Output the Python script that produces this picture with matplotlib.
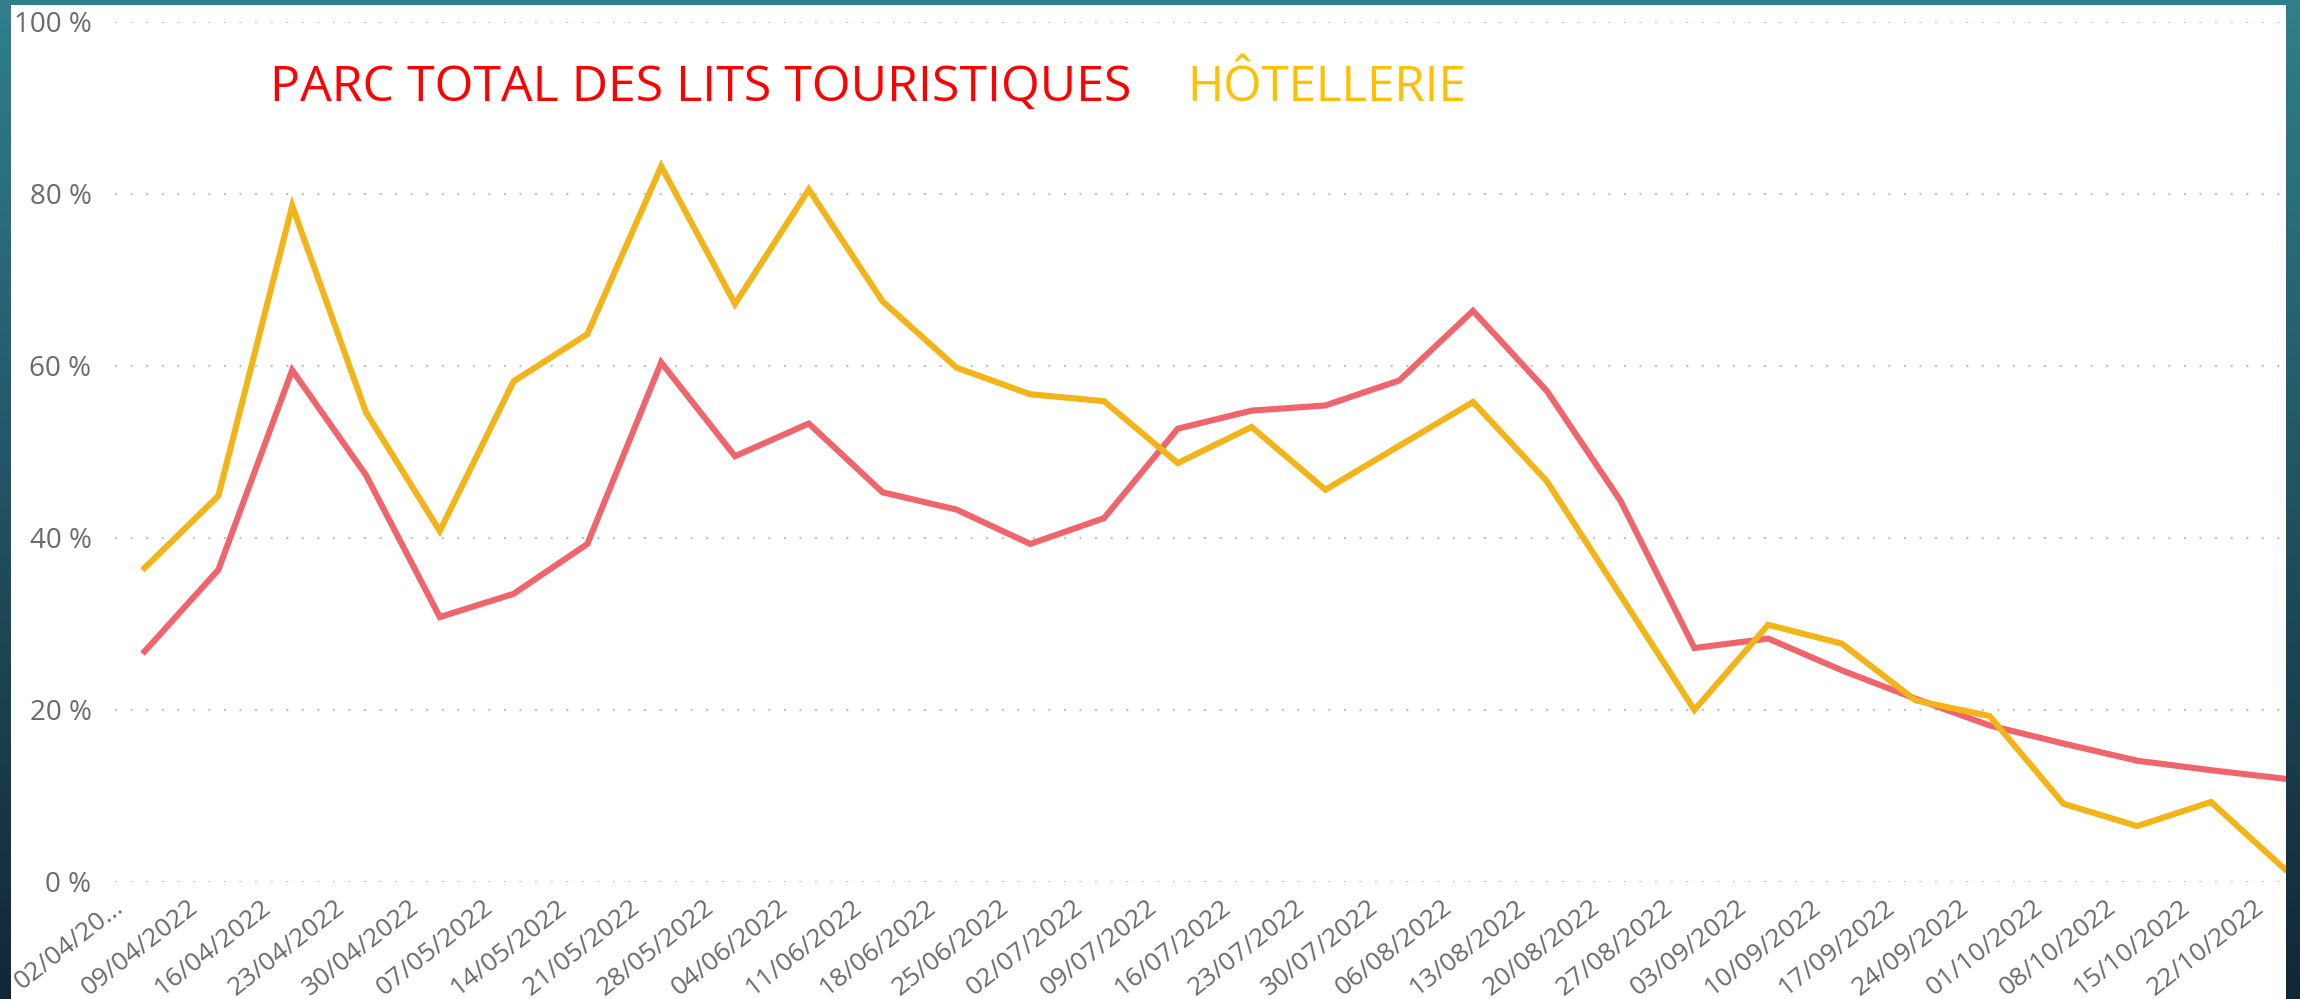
import numpy as np
import matplotlib
matplotlib.use("Agg")
import matplotlib.pyplot as plt
from matplotlib.patches import Rectangle
from matplotlib.transforms import ScaledTranslation

# ---------------- data ----------------
dates = ["02/04/20...", "09/04/2022", "16/04/2022", "23/04/2022", "30/04/2022",
         "07/05/2022", "14/05/2022", "21/05/2022", "28/05/2022", "04/06/2022",
         "11/06/2022", "18/06/2022", "25/06/2022", "02/07/2022", "09/07/2022",
         "16/07/2022", "23/07/2022", "30/07/2022", "06/08/2022", "13/08/2022",
         "20/08/2022", "27/08/2022", "03/09/2022", "10/09/2022", "17/09/2022",
         "24/09/2022", "01/10/2022", "08/10/2022", "15/10/2022", "22/10/2022"]

parc_total = [26.8, 36.3, 59.5, 47.3, 30.8, 33.5, 39.3, 60.4, 49.5, 53.3,
              45.3, 43.3, 39.3, 42.3, 52.7, 54.8, 55.4, 58.3, 66.4, 57.1,
              44.3, 27.2, 28.3, 24.6, 21.3, 18.2, 16.1, 14.1, 13.0, 12.0]

hotellerie = [36.5, 44.9, 78.6, 54.6, 40.8, 58.2, 63.7, 83.2, 67.2, 80.5,
              67.5, 59.8, 56.7, 55.9, 48.7, 52.9, 45.6, 50.7, 55.8, 46.6,
              33.3, 20.0, 29.9, 27.7, 21.1, 19.3, 9.1, 6.5, 9.3, 1.5]

y_ticks = [0, 20, 40, 60, 80, 100]
title_parc = "PARC TOTAL DES LITS TOURISTIQUES"
title_hot = "HÔTELLERIE"

# ---------------- style ----------------
W, H = 2300, 999
plt.rcParams['font.family'] = ['Open Sans', 'DejaVu Sans']
fig = plt.figure(figsize=(W / 100, H / 100), dpi=100)

# background (slide gradient + white panel)
bg = fig.add_axes([0, 0, 1, 1])
bg.set_xlim(0, W)
bg.set_ylim(H, 0)
bg.axis('off')
t = np.linspace(0, 1, 200)[:, None, None]
top = np.array([0.19, 0.50, 0.55])
bot = np.array([0.07, 0.15, 0.21])
grad = top * (1 - t) + bot * t
grad = np.repeat(grad, 2, axis=1)
bg.imshow(grad, extent=[0, W, H, 0], aspect='auto', zorder=0)
bg.add_patch(Rectangle((11, 5), 2286 - 11, H - 5, facecolor='white',
                       edgecolor='none', zorder=1))

# main axes
x0, x1 = 115, 2286
y_top, y_zero = 21.8, 882
ax = fig.add_axes([x0 / W, (H - y_zero) / H, (x1 - x0) / W, (y_zero - y_top) / H])
ax.patch.set_alpha(0)

x = np.arange(len(dates))
ax.plot(x, parc_total, color='#F0646B', lw=4.4, solid_joinstyle='miter', zorder=3)
ax.plot(x, hotellerie, color='#F2B418', lw=4.4, solid_joinstyle='miter', zorder=4)

spacing = 73.8
first = 144.6
ax.set_xlim(-(first - x0) / spacing, (x1 - first) / spacing)
ax.set_ylim(0, 100)

ax.set_yticks(y_ticks)
ax.set_yticklabels([f"{v} %" for v in y_ticks])
for v in y_ticks:
    ax.axhline(v, color='#c4c4c4', lw=1.6, linestyle=(0, (1, 6.0)), zorder=1)

ax.set_xticks(x)
ax.set_xticklabels(dates)
ax.tick_params(axis='y', length=0, pad=17, labelsize=20, labelcolor='#6a6a6a')
ax.tick_params(axis='x', length=0, pad=9, labelsize=19, labelcolor='#6a6a6a')
for s in ax.spines.values():
    s.set_visible(False)

# rotated date labels, shifted left of their tick
off = ScaledTranslation(-16 / 100, 0, fig.dpi_scale_trans)
for lab in ax.get_xticklabels():
    lab.set_rotation(38)
    lab.set_horizontalalignment('right')
    lab.set_verticalalignment('top')
    lab.set_transform(lab.get_transform() + off)

# title-like legend texts
fig.text(270 / W, 1 - 101 / H, title_parc, color='#FF0000', fontsize=36,
         ha='left', va='baseline')
fig.text(1187 / W, 1 - 101 / H, title_hot, color='#FFC000', fontsize=35.5,
         ha='left', va='baseline')

fig.savefig("out.png", dpi=100)
